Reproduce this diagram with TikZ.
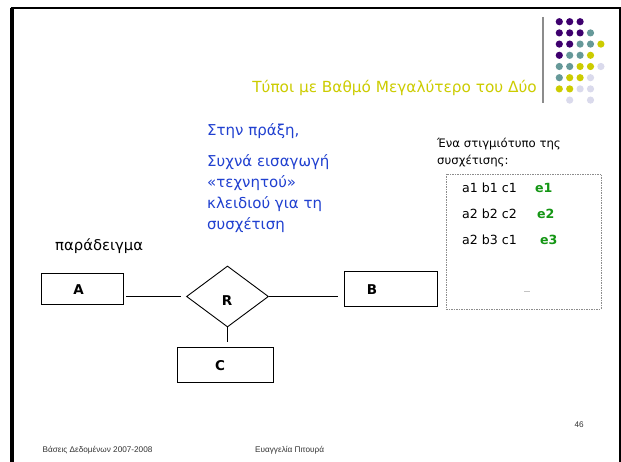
\documentclass[tikz,border=0pt]{standalone}
\usepackage{fontspec}
\setmainfont{DejaVu Sans}
\newfontfamily\footfont{Liberation Sans}
\usetikzlibrary{shapes.geometric}

\definecolor{dotP}{RGB}{62,0,110}
\definecolor{dotT}{RGB}{102,153,153}
\definecolor{dotY}{RGB}{204,204,0}
\definecolor{dotL}{RGB}{218,218,236}
\definecolor{titleyellow}{RGB}{204,204,0}
\definecolor{noteblue}{RGB}{32,64,208}
\definecolor{keygreen}{RGB}{20,150,20}
\definecolor{rulegray}{RGB}{140,140,140}

\tikzset{
  txt/.style={inner sep=0pt, anchor=base west},
  entity/.style={draw, line width=0.9pt, rectangle, inner sep=0pt},
  rel/.style={draw, line width=0.9pt, diamond, inner sep=0pt},
  conn/.style={line width=0.8pt},
  lbl/.style={font=\fontsize{13.5}{15}\selectfont\bfseries},
  bluetext/.style={txt, text=noteblue, font=\fontsize{15}{17}\selectfont},
  small/.style={txt, font=\fontsize{11.7}{13}\selectfont},
  rowtext/.style={txt, font=\fontsize{12.6}{14}\selectfont},
  keytext/.style={txt, text=keygreen, font=\fontsize{12.6}{14}\selectfont\bfseries},
  foot/.style={inner sep=0pt, font=\footfont\fontsize{8.2}{10}\selectfont, text=black!80}
}

\begin{document}
\begin{tikzpicture}[x=1pt,y=-1pt]
\useasboundingbox (0,0) rectangle (621,462);
\fill[white] (0,0) rectangle (621,462);

% slide frame
\draw[line width=3.5pt] (12,470) -- (12,7.7);
\draw[line width=2pt] (10.5,7.7) -- (620,7.7) -- (620,470);

% title rule and dot ornament
\draw[rulegray, line width=1.4pt] (543,17) -- (543,103);
\foreach \c/\r/\k in {0/0/P,1/0/P,2/0/P,
  0/1/P,1/1/P,2/1/P,3/1/T,
  0/2/P,1/2/P,2/2/T,3/2/T,4/2/Y,
  0/3/P,1/3/T,2/3/T,3/3/Y,
  0/4/T,1/4/T,2/4/Y,3/4/Y,4/4/L,
  0/5/T,1/5/Y,2/5/Y,3/5/L,
  0/6/Y,1/6/Y,2/6/L,3/6/L,
  1/7/L,3/7/L}
  \fill[dot\k] (559.3+10.4*\c, 21.7+11.2*\r) circle[radius=3.6];

% title
\node[inner sep=0pt, anchor=base east, text=titleyellow,
      font=\fontsize{15.3}{17}\selectfont] (title) at (537,93)
  {Τύποι με Βαθμό Μεγαλύτερο του Δύο};

% note in blue
\node[bluetext] (prax) at (207,136) {Στην πράξη,};
\node[bluetext] (note1) at (207,167) {Συχνά εισαγωγή};
\node[bluetext] (note2) at (207,188) {«τεχνητού»};
\node[bluetext] (note3) at (207,209) {κλειδιού για τη};
\node[bluetext] (note4) at (207,229.5) {συσχέτιση};

% instance of the relationship
\node[small] (inst1) at (437,148) {Ένα στιγμιότυπο της};
\node[small] (inst2) at (437,164.5) {συσχέτισης:};
\node[draw=rulegray, line width=0.7pt, dash pattern=on 1.5pt off 1pt,
      rectangle, inner sep=0pt, minimum width=155pt, minimum height=135pt]
  (inst) at (523.5,241.5) {};
\node[rowtext] (r1) at (462,192.5) {a1 b1 c1};
\node[keytext] (k1) at (535,192.5) {e1};
\node[rowtext] (r2) at (462,218.5) {a2 b2 c2};
\node[keytext] (k2) at (537,218.5) {e2};
\node[rowtext] (r3) at (462,245) {a2 b3 c1};
\node[keytext] (k3) at (540,245) {e3};
\node[inner sep=0pt, anchor=base, font=\fontsize{6}{7}\selectfont] (more) at (527,293) {…};

% example diagram
\node[inner sep=0pt, anchor=base west, font=\fontsize{14.8}{16}\selectfont] (ex) at (55,250.5) {παράδειγμα};

\node[entity, minimum width=82pt, minimum height=31pt,
      label={[lbl, xshift=-3.5pt, yshift=-1pt]center:A}] (A) at (82,288.5) {};
\node[entity, minimum width=93pt, minimum height=35pt,
      label={[lbl, xshift=-18.5pt, yshift=-1pt]center:B}] (B) at (390.5,288.5) {};
\node[entity, minimum width=96pt, minimum height=35pt,
      label={[lbl, xshift=-5pt, yshift=-1.5pt]center:C}] (C) at (225,364.5) {};
\node[rel, minimum width=82pt, minimum height=61pt,
      label={[lbl, xshift=-0.5pt, yshift=-4pt]center:R}] (R) at (227.5,296.5) {};

\draw[conn, shorten <=3pt, shorten >=5pt] (R.west -| A.east) -- (R.west);
\draw[conn, shorten >=6pt] (R.east) -- (R.east -| B.west);
\draw[conn, shorten >=5pt] (R.south) -- (R.south |- C.north);

% footer
\node[foot, anchor=base west] (f1) at (42.5,452) {Βάσεις Δεδομένων 2007-2008};
\node[foot, anchor=base west] (f2) at (255,452) {Ευαγγελία Πιτουρά};
\node[foot, anchor=base east] (f3) at (584,427) {46};
\end{tikzpicture}
\end{document}
